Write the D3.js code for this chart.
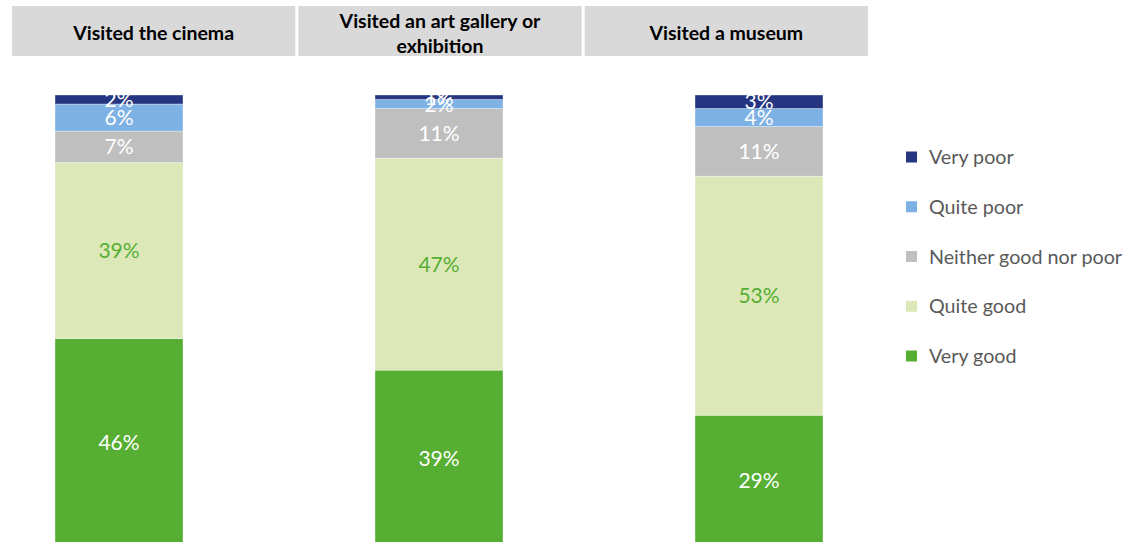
<!DOCTYPE html>
<html>
<head>
<meta charset="utf-8">
<script src="https://cdn.jsdelivr.net/npm/d3@7"></script>
<style>
  html, body { margin: 0; padding: 0; background: #fff; }
  svg { display: block; }
</style>
</head>
<body>
<svg id="chart" width="1132" height="542"></svg>
<script>
// ---- Data ----
const categories = ["Visited the cinema", "Visited an art gallery or exhibition", "Visited a museum"];
const headerLines = [["Visited the cinema"], ["Visited an art gallery or", "exhibition"], ["Visited a museum"]];
const seriesNames = ["Very good", "Quite good", "Neither good nor poor", "Quite poor", "Very poor"];
const veryGood   = [46, 39, 29];
const quiteGood  = [39, 47, 53];
const neither    = [7, 11, 11];
const quitePoor  = [6, 2, 4];
const veryPoor   = [2, 1, 3];
const legendOrder = ["Very poor", "Quite poor", "Neither good nor poor", "Quite good", "Very good"];

const colors = {
  "Very good": "#56ae33",
  "Quite good": "#dde8b9",
  "Neither good nor poor": "#bfbfbf",
  "Quite poor": "#7eb1e4",
  "Very poor": "#253581"
};
const labelColors = {
  "Very good": "#ffffff",
  "Quite good": "#56ae33",
  "Neither good nor poor": "#ffffff",
  "Quite poor": "#ffffff",
  "Very poor": "#ffffff"
};

const seriesValues = {
  "Very good": veryGood,
  "Quite good": quiteGood,
  "Neither good nor poor": neither,
  "Quite poor": quitePoor,
  "Very poor": veryPoor
};

const rows = categories.map((c, i) => {
  const r = { category: c };
  seriesNames.forEach(s => r[s] = seriesValues[s][i]);
  return r;
});

const svg = d3.select("#chart");
const font = "Lato, 'Open Sans', sans-serif";

// ---- Headers ----
const hx = d3.scaleBand().domain(categories).range([12, 868]).paddingInner(0.0105);
const header = svg.append("g");
categories.forEach((c, i) => {
  header.append("rect")
    .attr("x", hx(c)).attr("y", 6)
    .attr("width", hx.bandwidth()).attr("height", 50)
    .attr("fill", "#d9d9d9");
  const lines = headerLines[i];
  const cx = hx(c) + hx.bandwidth() / 2;
  const t = header.append("text")
    .attr("text-anchor", "middle")
    .attr("font-family", font)
    .attr("font-weight", "bold")
    .attr("font-size", 19.5)
    .attr("fill", "#000");
  if (lines.length === 1) {
    t.append("tspan").attr("x", cx).attr("y", 40).text(lines[0]);
  } else {
    t.append("tspan").attr("x", cx).attr("y", 28).text(lines[0]);
    t.append("tspan").attr("x", cx).attr("y", 53).text(lines[1]);
  }
});

// ---- Bars ----
const barWidth = 128;
const xc = d3.scalePoint().domain(categories).range([119, 759]);
const y = d3.scaleLinear().domain([0, 100]).range([546, 95]);

const stack = d3.stack().keys(seriesNames);
const stacked = stack(rows);

const layers = svg.append("g").selectAll("g")
  .data(stacked).join("g")
  .attr("fill", d => colors[d.key]);

layers.selectAll("rect")
  .data(d => d.map(p => ({ key: d.key, p })))
  .join("rect")
  .attr("x", d => xc(d.p.data.category) - barWidth / 2)
  .attr("width", barWidth)
  .attr("y", d => y(d.p[1]))
  .attr("height", d => y(d.p[0]) - y(d.p[1]))
  .attr("stroke", "#ffffff")
  .attr("stroke-width", 0.6)
  .attr("stroke-opacity", 0.6);

// labels
const labels = svg.append("g");
stacked.forEach(layer => {
  layer.forEach(p => {
    const v = p[1] - p[0];
    labels.append("text")
      .attr("x", xc(p.data.category))
      .attr("y", (y(p[0]) + y(p[1])) / 2)
      .attr("dy", "0.36em")
      .attr("text-anchor", "middle")
      .attr("font-family", font)
      .attr("font-size", 21)
      .attr("fill", labelColors[layer.key])
      .text(v + "%");
  });
});

// ---- Legend ----
const ly = d3.scalePoint().domain(legendOrder).range([157, 356]);
const legend = svg.append("g");
legendOrder.forEach(s => {
  legend.append("rect")
    .attr("x", 906).attr("y", ly(s) - 5.5)
    .attr("width", 11).attr("height", 11)
    .attr("fill", colors[s]);
  legend.append("text")
    .attr("x", 929).attr("y", ly(s))
    .attr("dy", "0.36em")
    .attr("font-family", font)
    .attr("font-size", 19.7)
    .attr("fill", "#595959")
    .text(s);
});
</script>
</body>
</html>
